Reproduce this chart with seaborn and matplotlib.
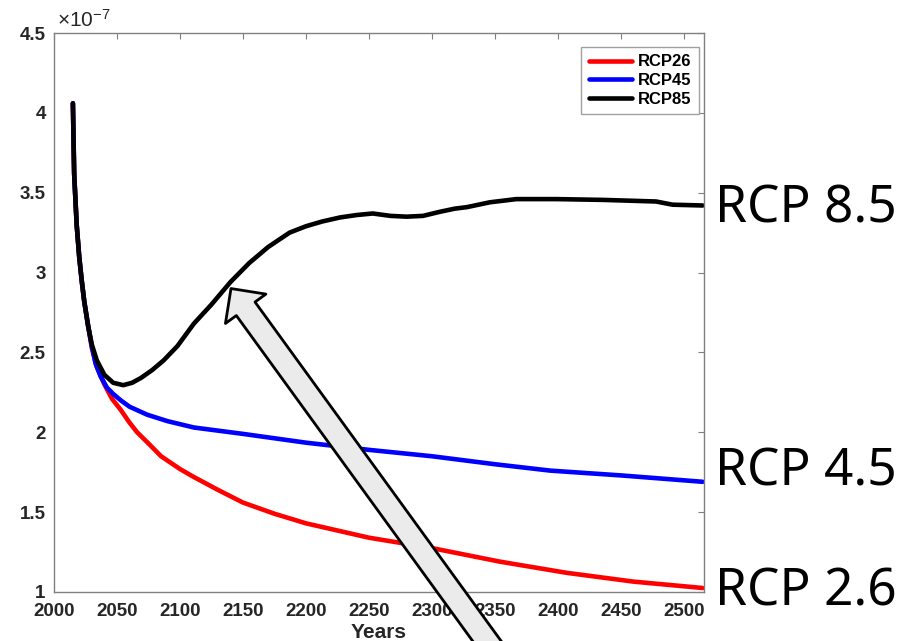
import numpy as np
import pandas as pd
import matplotlib
matplotlib.use("Agg")
import matplotlib.pyplot as plt
import seaborn as sns

# ---------------- data (units of 1e-7) ----------------
years_rcp26 = [2015, 2016, 2018, 2020, 2022, 2024, 2027, 2030, 2034, 2040, 2046, 2053,
               2060, 2066, 2075, 2085, 2100, 2111, 2130, 2150, 2175, 2200, 2250,
               2300, 2354, 2407, 2460, 2515]
vals_rcp26 = [4.06, 3.62, 3.30, 3.10, 2.95, 2.82, 2.67, 2.53, 2.41, 2.30, 2.21, 2.14,
              2.06, 2.00, 1.93, 1.85, 1.77, 1.72, 1.64, 1.56, 1.49, 1.43, 1.34,
              1.275, 1.19, 1.12, 1.065, 1.025]

years_rcp45 = [2015, 2016, 2018, 2020, 2022, 2024, 2027, 2030, 2033, 2037, 2042, 2047,
               2053, 2060, 2074, 2090, 2111, 2150, 2200, 2250, 2275, 2300, 2350,
               2394, 2450, 2515]
vals_rcp45 = [4.06, 3.62, 3.30, 3.10, 2.95, 2.82, 2.67, 2.54, 2.43, 2.35, 2.28, 2.24,
              2.20, 2.16, 2.11, 2.07, 2.03, 1.99, 1.935, 1.89, 1.87, 1.85, 1.80,
              1.76, 1.73, 1.69]

years_rcp85 = [2015, 2016, 2018, 2020, 2022, 2024, 2027, 2030, 2034, 2040, 2047, 2055,
               2062, 2069, 2078, 2087, 2098, 2111, 2125, 2140, 2155, 2170, 2187, 2200,
               2213, 2227, 2240, 2253, 2267, 2280, 2293, 2306, 2318, 2328, 2346, 2367,
               2399, 2436, 2478, 2491, 2515]
vals_rcp85 = [4.06, 3.62, 3.30, 3.10, 2.95, 2.82, 2.67, 2.55, 2.45, 2.36, 2.31, 2.295,
              2.31, 2.34, 2.39, 2.45, 2.54, 2.68, 2.80, 2.94, 3.06, 3.16, 3.25, 3.29,
              3.32, 3.345, 3.36, 3.37, 3.355, 3.35, 3.355, 3.38, 3.40, 3.41, 3.44, 3.46,
              3.46, 3.455, 3.445, 3.425, 3.42]

series_names = ["RCP26", "RCP45", "RCP85"]
series_colors = ["#ff0000", "#0000ff", "#000000"]
side_labels = ["RCP 2.6", "RCP 4.5", "RCP 8.5"]
x_ticks = list(range(2000, 2501, 50))
y_ticks = [1, 1.5, 2, 2.5, 3, 3.5, 4, 4.5]

df = pd.concat([
    pd.DataFrame({"Years": years_rcp26, "value": vals_rcp26, "scenario": "RCP26"}),
    pd.DataFrame({"Years": years_rcp45, "value": vals_rcp45, "scenario": "RCP45"}),
    pd.DataFrame({"Years": years_rcp85, "value": vals_rcp85, "scenario": "RCP85"}),
])

# ---------------- style ----------------
sns.set_theme(style="white")
plt.rcParams["font.family"] = ["Liberation Sans", "DejaVu Sans"]
plt.rcParams["mathtext.fontset"] = "custom"
plt.rcParams["mathtext.rm"] = "Liberation Sans"
plt.rcParams["mathtext.it"] = "Liberation Sans"

W, H = 907, 641
fig = plt.figure(figsize=(W / 100, H / 100), dpi=100)
ax = fig.add_axes([54 / W, (H - 592) / H, 650 / W, 559 / H])

sns.lineplot(data=df, x="Years", y="value", hue="scenario",
             hue_order=series_names, palette=series_colors,
             linewidth=3.3, legend=False, errorbar=None, ax=ax)

ax.set_xlim(2000, 2516)
ax.set_ylim(1, 4.5)
ax.set_xticks(x_ticks)
ax.set_yticks(y_ticks)
ax.set_xticklabels([str(v) for v in x_ticks])
ax.set_yticklabels([f"{v:g}" for v in y_ticks])

tick_col = "#262626"
for lab in ax.get_xticklabels() + ax.get_yticklabels():
    lab.set_fontweight("bold")
    lab.set_fontsize(13.5)
    lab.set_color(tick_col)

ax.tick_params(axis="both", which="both", direction="in", length=4.5, width=0.8,
               color="#808080", top=True, right=True)
ax.tick_params(axis="x", pad=8)
ax.tick_params(axis="y", pad=6)
for sp in ax.spines.values():
    sp.set_color("#808080")
    sp.set_linewidth(1.0)

ax.set_xlabel("Years", fontsize=15, fontweight="bold", color=tick_col, labelpad=2)
ax.set_ylabel("")

# exponent label
ax.text(0.004, 1.004, r"$\times10^{-7}$", transform=ax.transAxes, ha="left", va="bottom",
        fontsize=15, color=tick_col)

# legend
handles = ax.get_lines()[:3]
leg = ax.legend(handles, series_names, loc="upper right",
                bbox_to_anchor=((699 - 54) / 650, (592 - 47) / 559),
                borderaxespad=0, fancybox=False, framealpha=1, edgecolor="#a0a0a0",
                handlelength=2.6, handletextpad=0.35, labelspacing=0.22,
                borderpad=0.45, prop={"weight": "bold", "size": 12})
leg.get_frame().set_linewidth(1.0)
for t in leg.get_texts():
    t.set_color("#000000")

# right-side big labels
label_font = ["Noto Sans", "DejaVu Sans"]
fig.text(715 / W, 1 - 222 / H, side_labels[2], family=label_font, fontsize=37,
         ha="left", va="baseline", color="black")
fig.text(715 / W, 1 - 485 / H, side_labels[1], family=label_font, fontsize=37,
         ha="left", va="baseline", color="black")
fig.text(715 / W, 1 - 605 / H, side_labels[0], family=label_font, fontsize=37,
         ha="left", va="baseline", color="black")

# big grey arrow pointing at the RCP8.5 rise
ax.annotate("", xy=(2140.5, 2.90), xycoords="data",
            xytext=(513, H - 677), textcoords="figure pixels",
            annotation_clip=False,
            arrowprops=dict(arrowstyle="simple,head_length=1.8,head_width=3.6,tail_width=1.66",
                            mutation_scale=10, fc="#ebebeb", ec="black", lw=2,
                            shrinkA=0, shrinkB=0))

fig.savefig("out.png", dpi=100)
